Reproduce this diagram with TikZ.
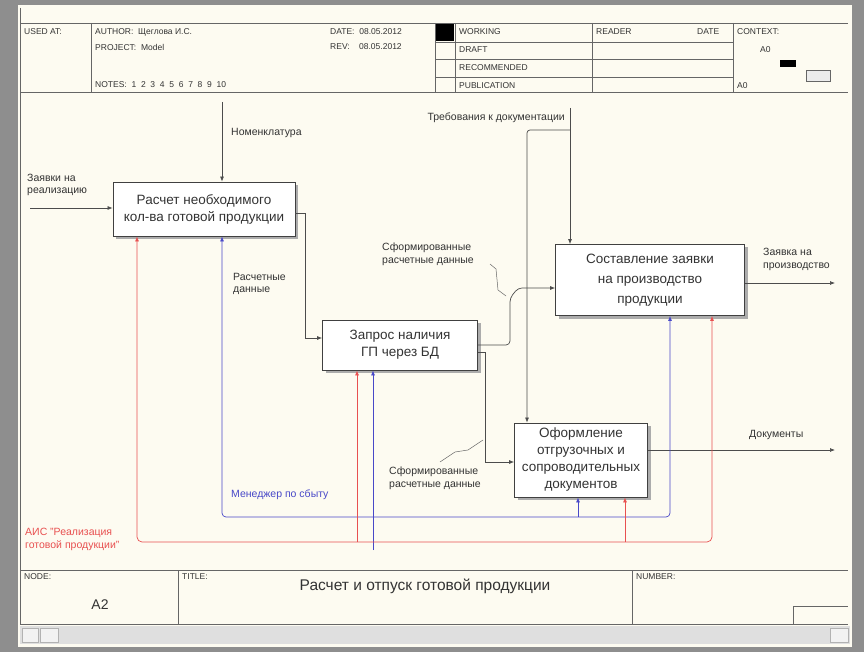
\documentclass[tikz,border=0pt]{standalone}
\usepackage{fontspec}
\setmainfont{Liberation Sans}
\usetikzlibrary{arrows.meta,calc,shadows}
\definecolor{cream}{HTML}{FDFBF1}
\definecolor{mblue}{HTML}{4848C8}
\definecolor{mred}{HTML}{E85050}
\definecolor{frame}{HTML}{8E8E8E}
\begin{document}
\begin{tikzpicture}[x=1pt,y=-1pt,
  box/.style={draw=black!75, line width=0.8pt, fill=white, align=center,
    font=\fontsize{13.5}{17}\selectfont, inner sep=2pt, text=black!80,
    drop shadow={shadow xshift=3pt, shadow yshift=-3pt, fill=gray!65, opacity=1}},
  arr/.style={draw=black!70, line width=0.7pt, -{Latex[length=5pt,width=4pt]}},
  barr/.style={draw=mblue, line width=0.7pt, -{Latex[length=5pt,width=4pt]}},
  rarr/.style={draw=mred, line width=0.7pt, -{Latex[length=5pt,width=4pt]}},
  leader/.style={draw=black!60, line width=0.5pt},
  lbl/.style={font=\fontsize{10.5}{12.5}\selectfont, align=left, inner sep=1pt, text=black!80},
  hdr/.style={font=\fontsize{8.5}{9}\selectfont, anchor=west, inner sep=0pt, text=black!80},
  rule/.style={draw=black!60, line width=0.6pt}]
\useasboundingbox (0,0) rectangle (864,652);
% outer frame
\fill[frame] (0,0) rectangle (864,652);
\fill[cream] (18,5) rectangle (852,647);
\draw[rule] (20,8) -- (20,624);
% header
\draw[rule] (20,23) -- (848,23);
\draw[rule] (20,92) -- (848,92);
\draw[rule] (91,23) -- (91,92);
\draw[rule] (435,23) -- (435,92);
\draw[rule] (455,23) -- (455,92);
\draw[rule] (592,23) -- (592,92);
\draw[rule] (733,23) -- (733,92);
\draw[rule] (435,42) -- (733,42);
\draw[rule] (435,59) -- (733,59);
\draw[rule] (435,77) -- (733,77);
\fill[black] (436,24) rectangle (454,41);
\node[hdr] (h1) at (24,32) {USED AT:};
\node[hdr] (h2) at (95,32) {AUTHOR:\ \ Щеглова И.С.};
\node[hdr] (h3) at (95,47) {PROJECT:\ \ Model};
\node[hdr] (h4) at (95,85) {NOTES:\ \ 1\ \ 2\ \ 3\ \ 4\ \ 5\ \ 6\ \ 7\ \ 8\ \ 9\ \ 10};
\node[hdr] (h5) at (330,32) {DATE:\ \ 08.05.2012};
\node[hdr] (h6) at (330,47) {REV:\ \ \ \ 08.05.2012};
\node[hdr] (h7) at (459,32) {WORKING};
\node[hdr] (h8) at (459,50) {DRAFT};
\node[hdr] (h9) at (459,68) {RECOMMENDED};
\node[hdr] (h10) at (459,86) {PUBLICATION};
\node[hdr] (h11) at (596,32) {READER};
\node[hdr] (h12) at (697,32) {DATE};
\node[hdr] (h13) at (737,32) {CONTEXT:};
\node[hdr] (h14) at (760,50) {A0};
\fill[black] (780,60) rectangle (796,67);
\draw[rule, fill=gray!15] (806,70) rectangle (830,81);
\node[hdr] (h15) at (737,86) {A0};
% footer
\draw[rule] (20,570) -- (848,570);
\draw[rule] (20,624) -- (848,624);
\draw[rule] (178,570) -- (178,624);
\draw[rule] (632,570) -- (632,624);
\draw[rule] (793,624) -- (793,606) -- (848,606);
\node[hdr] (f1) at (24,577) {NODE:};
\node[hdr] (f2) at (182,577) {TITLE:};
\node[hdr] (f3) at (636,577) {NUMBER:};
\node[font=\fontsize{14}{16}\selectfont, text=black!80] (f4) at (100,605) {A2};
\node[font=\fontsize{15.5}{18}\selectfont, text=black!80] (f5) at (425,586) {Расчет и отпуск готовой продукции};
% scrollbar
\fill[gray!25] (20,626) rectangle (850,644);
\draw[gray!60, fill=gray!10] (22,628) rectangle (38,642);
\draw[gray!60, fill=gray!10] (40,628) rectangle (58,642);
\draw[gray!60, fill=gray!10] (830,628) rectangle (848,642);
% boxes
\node[box, minimum width=182pt, minimum height=54pt] (b1) at (204,209) {Расчет необходимого\\кол-ва готовой продукции};
\node[box, minimum width=155pt, minimum height=50pt] (b2) at (400,345) {Запрос наличия\\ГП через БД};
\node[box, minimum width=189pt, minimum height=71pt, font=\fontsize{13.5}{20}\selectfont] (b3) at (650,280) {Составление заявки\\на производство\\продукции};
\node[box, minimum width=133pt, minimum height=74pt] (b4) at (581,460) {Оформление\\отгрузочных и\\сопроводительных\\документов};
% input to b1
\coordinate (in1) at (30,208);
\draw[arr] (in1) -- (in1 -| b1.west);
\node[lbl, anchor=south west] (lin1) at (26,197) {Заявки на\\реализацию};
% control to b1
\coordinate (c1) at (222,102);
\draw[arr] (c1) -- (c1 |- b1.north);
\node[lbl, anchor=west] (lc1) at (230,133) {Номенклатура};
% b1 -> b2
\draw[arr] ($(b1.east)+(0,4)$) -- ++(10,0) |- ($(b2.west)+(0,-7)$);
\node[lbl, anchor=north west] (lo1) at (232,272) {Расчетные\\данные};
% b2 -> b3
\draw[arr, rounded corners=4pt] (b2.east) -- (510,345) -- (510,298) -- (518,288) -- (b3.west |- 518,288);
\node[lbl, anchor=north west] (ls1) at (381,242) {Сформированные\\расчетные данные};
\draw[leader] (490,264) -- (496,269) -- (498,290) -- (506,296);
% b2 -> b4
\draw[arr] ($(b2.east)+(0,7)$) -- (485,352) |- ($(b4.west)+(0,2)$);
\node[lbl, anchor=north west] (ls2) at (388,466) {Сформированные\\расчетные данные};
\draw[leader] (440,462) -- (455,452) -- (468,450) -- (483,440);
% control to b3 and b4
\coordinate (c2) at (570,108);
\draw[arr] (c2) -- (c2 |- b3.north);
\coordinate (j1) at (570,130);
\draw[arr, rounded corners=3pt] (j1) -| ($(b4.north)+(-54,0)$);
\node[lbl, anchor=east] (lc2) at (566,118) {Требования к документации};
% outputs
\coordinate (o3) at (835,283);
\draw[arr] (b3.east |- o3) -- (o3);
\node[lbl, anchor=north west] (lo3) at (762,247) {Заявка на\\производство};
\coordinate (o4) at (835,450);
\draw[arr] (b4.east |- o4) -- (o4);
\node[lbl, anchor=west] (lo4) at (748,435) {Документы};
% mechanism: manager (blue)
\coordinate (m1) at (222,517);
\coordinate (m2) at (670,517);
\draw[barr, {Latex[length=5pt,width=4pt]}-{Latex[length=5pt,width=4pt]}, rounded corners=4pt] ($(b1.south)+(18,0)$) -- (m1) -- (m2) -- ($(b3.south)+(20,0)$);
\coordinate (m4) at (578,517);
\draw[barr] (m4) -- ($(b4.south)+(-3,0)$);
\coordinate (m3) at (373,550);
\draw[barr] (m3) -- ($(b2.south)+(-27,0)$);
\node[lbl, anchor=west, text=mblue] (lm) at (230,495) {Менеджер по сбыту};
% mechanism: AIS (red)
\coordinate (r1) at (137,542);
\coordinate (r2) at (712,542);
\draw[rarr, {Latex[length=5pt,width=4pt]}-{Latex[length=5pt,width=4pt]}, rounded corners=5pt] ($(b1.south)+(-67,0)$) -- (r1) -- (r2) -- ($(b3.south)+(62,0)$);
\coordinate (r3) at (357,542);
\draw[rarr] (r3) -- ($(b2.south)+(-43,0)$);
\coordinate (r4) at (625,542);
\draw[rarr] (r4) -- ($(b4.south)+(44,0)$);
\node[lbl, anchor=north west, text=mred] (lr) at (24,527) {АИС "Реализация\\готовой продукции"};
\end{tikzpicture}
\end{document}
